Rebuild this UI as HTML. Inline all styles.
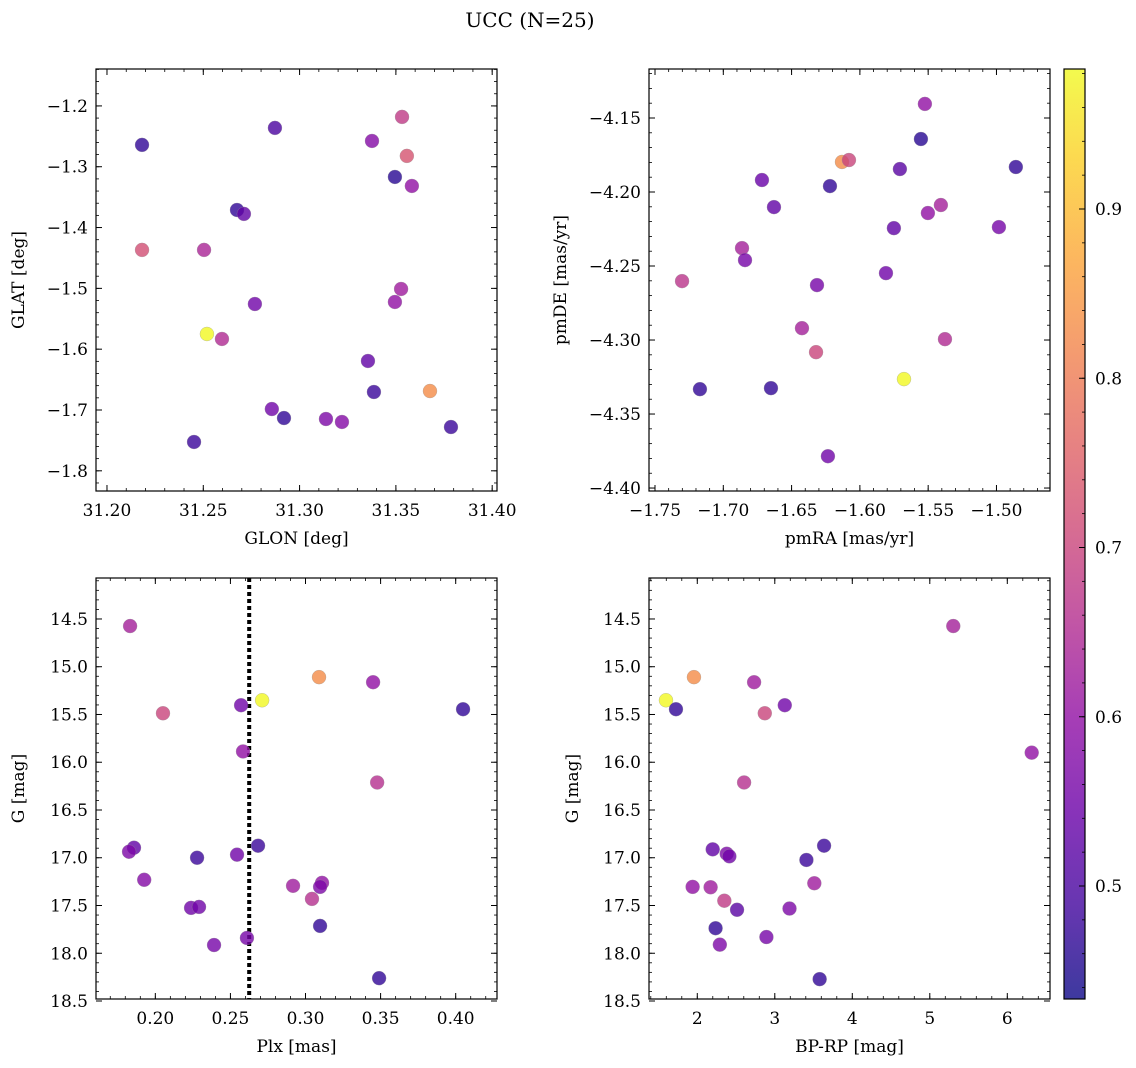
<!DOCTYPE html>
<html><head><meta charset="utf-8"><style>
html,body{margin:0;padding:0;background:#fff;}
svg{display:block;font-family:"DejaVu Serif","Liberation Serif",serif;}
</style></head><body>
<svg id="fig" width="1136" height="1068" viewBox="0 0 1136 1068" xmlns="http://www.w3.org/2000/svg">
<text x="530" y="27" font-size="20" text-anchor="middle">UCC (N=25)</text>
</svg>
<script>
// Panel 1: GLON / GLAT
const glonA=[31.2182,31.2872,31.3532,31.3376,31.3557,31.3495,31.3583,31.2675,31.2711,31.2182,31.2504,31.3527,31.3495,31.2768,31.2519,31.2597,31.3355,31.3386,31.3677,31.2856,31.2919,31.3137,31.3220,31.3786,31.2452];
const glatA=[-1.2641,-1.2362,-1.2181,-1.2576,-1.2822,-1.3168,-1.3316,-1.3711,-1.3776,-1.4368,-1.4368,-1.5010,-1.5224,-1.5257,-1.5750,-1.5832,-1.6194,-1.6704,-1.6688,-1.6984,-1.7132,-1.7148,-1.7197,-1.7280,-1.7526];
const probA=[0.47,0.50,0.68,0.58,0.73,0.46,0.60,0.47,0.53,0.72,0.64,0.62,0.60,0.55,0.98,0.65,0.53,0.48,0.83,0.55,0.47,0.57,0.58,0.48,0.48];
// Panel 2: pmRA / pmDE
const pmraB=[-1.5524,-1.5553,-1.6131,-1.6080,-1.6717,-1.6219,-1.5707,-1.4858,-1.6629,-1.5407,-1.5502,-1.5751,-1.4982,-1.6863,-1.6841,-1.7302,-1.5809,-1.6314,-1.6424,-1.6321,-1.5377,-1.5677,-1.7171,-1.6651,-1.6234];
const pmdeB=[-4.1405,-4.1642,-4.1797,-4.1784,-4.1919,-4.1960,-4.1845,-4.1831,-4.2102,-4.2088,-4.2142,-4.2244,-4.2237,-4.2379,-4.2460,-4.2602,-4.2548,-4.2629,-4.2920,-4.3082,-4.2994,-4.3264,-4.3332,-4.3325,-4.3785];
const probB=[0.60,0.46,0.83,0.70,0.54,0.47,0.52,0.47,0.53,0.63,0.60,0.53,0.56,0.63,0.56,0.67,0.55,0.56,0.63,0.70,0.65,0.98,0.47,0.47,0.55];
// Panel 3: Plx / G
const plxC=[0.1832,0.3090,0.3450,0.2711,0.2571,0.2051,0.4049,0.2584,0.3477,0.2684,0.1858,0.1825,0.2544,0.2278,0.1926,0.3110,0.3097,0.2917,0.3043,0.2238,0.2291,0.3097,0.2610,0.2391,0.3490];
const gC=[14.574,15.109,15.162,15.351,15.403,15.487,15.445,15.887,16.212,16.874,16.895,16.937,16.968,17.000,17.231,17.263,17.305,17.294,17.431,17.525,17.515,17.714,17.840,17.914,18.261];
const probC=[0.63,0.83,0.60,0.98,0.55,0.70,0.47,0.60,0.66,0.48,0.53,0.57,0.55,0.48,0.58,0.60,0.57,0.62,0.66,0.55,0.55,0.47,0.56,0.56,0.47];
const plxLine=[0.2625];
// Panel 4: BP-RP / G
const bprpD=[5.303,1.957,2.733,1.596,1.725,2.871,3.129,6.315,2.604,3.636,2.199,2.380,2.414,3.408,1.940,2.172,3.510,2.349,2.513,3.190,2.236,2.892,2.291,3.579];
const gD=[14.574,15.109,15.162,15.351,15.445,15.487,15.403,15.900,16.212,16.874,16.912,16.958,16.985,17.023,17.305,17.309,17.267,17.450,17.545,17.532,17.738,17.830,17.910,18.271];
const probD=[0.63,0.83,0.62,0.98,0.47,0.70,0.55,0.60,0.66,0.48,0.53,0.57,0.55,0.48,0.60,0.62,0.62,0.68,0.52,0.57,0.47,0.56,0.57,0.47];
// Tick labels
const ticksA_x=[31.20,31.25,31.30,31.35,31.40];
const ticksA_y=[-1.2,-1.3,-1.4,-1.5,-1.6,-1.7,-1.8];
const ticksB_x=[-1.75,-1.70,-1.65,-1.60,-1.55,-1.50];
const ticksB_y=[-4.15,-4.20,-4.25,-4.30,-4.35,-4.40];
const ticksC_x=[0.20,0.25,0.30,0.35,0.40];
const ticksG_y=[14.5,15.0,15.5,16.0,16.5,17.0,17.5,18.0,18.5];
const ticksD_x=[2,3,4,5,6];
const ticksCbar=[0.5,0.6,0.7,0.8,0.9];

const NS="http://www.w3.org/2000/svg";
const svg=document.getElementById('fig');
function mk(tag,attrs,parent){const e=document.createElementNS(NS,tag);for(const k in attrs)e.setAttribute(k,attrs[k]);(parent||svg).appendChild(e);return e;}
function lin(d0,d1,r0,r1){return v=>r0+(v-d0)/(d1-d0)*(r1-r0);}
const plasma=[[13,8,135],[65,4,157],[106,0,168],[143,13,164],[177,42,144],[204,71,120],[225,100,98],[242,132,75],[252,166,54],[252,206,37],[240,249,33]];
const cmin=0.433,cmax=0.983;
function cmap(v){let t=(v-cmin)/(cmax-cmin);t=Math.max(0,Math.min(1,t));const s=t*10,i=Math.min(9,Math.floor(s)),f=s-i;const a=plasma[i],b=plasma[i+1];return 'rgb('+[0,1,2].map(k=>Math.round(a[k]+(b[k]-a[k])*f)).join(',')+')';}
function fmt(v,d){const s=Math.abs(v).toFixed(d);return (v<0?'\u2212':'')+s;}
const FS=17;

function panel(cfg){
  const {x0,x1,y0,y1,xd,yd,xt,yt,xdec,ydec,xminor,yminor,xlabel,ylabel,name}=cfg;
  const sx=lin(xd[0],xd[1],x0,x1), sy=lin(yd[0],yd[1],y0,y1);
  const g=mk('g',{});
  
  
  const xs=Math.min(xd[0],xd[1]), xe=Math.max(xd[0],xd[1]);
  for(let k=Math.ceil(xs/xminor-1e-6);k*xminor<=xe+1e-9;k++){const px=sx(k*xminor);
    mk('line',{x1:px,x2:px,y1:y1,y2:y1-3,stroke:'#000','stroke-width':0.8},g);
    mk('line',{x1:px,x2:px,y1:y0,y2:y0+3,stroke:'#000','stroke-width':0.8},g);}
  const ys=Math.min(yd[0],yd[1]), ye=Math.max(yd[0],yd[1]);
  for(let k=Math.ceil(ys/yminor-1e-6);k*yminor<=ye+1e-9;k++){const py=sy(k*yminor);
    mk('line',{x1:x0,x2:x0+3,y1:py,y2:py,stroke:'#000','stroke-width':0.8},g);
    mk('line',{x1:x1,x2:x1-3,y1:py,y2:py,stroke:'#000','stroke-width':0.8},g);}
  xt.forEach(v=>{const px=sx(v);
    mk('line',{x1:px,x2:px,y1:y1,y2:y1-6,stroke:'#000','stroke-width':1},g);
    mk('line',{x1:px,x2:px,y1:y0,y2:y0+6,stroke:'#000','stroke-width':1},g);
    const t=mk('text',{x:px,y:y1+25,'font-size':FS,'text-anchor':'middle'},g);t.textContent=fmt(v,xdec);
    
    });
  yt.forEach(v=>{const py=sy(v);
    mk('line',{x1:x0,x2:x0+6,y1:py,y2:py,stroke:'#000','stroke-width':1},g);
    mk('line',{x1:x1,x2:x1-6,y1:py,y2:py,stroke:'#000','stroke-width':1},g);
    const t=mk('text',{x:x0-8,y:py+6,'font-size':FS,'text-anchor':'end'},g);t.textContent=fmt(v,ydec);
    
    });
  const fr=mk('rect',{x:x0,y:y0,width:x1-x0,height:y1-y0,fill:'none',stroke:'#000','stroke-width':1.2},g);
  
  
  const xl=mk('text',{x:(x0+x1)/2,y:y1+53,'font-size':FS,'text-anchor':'middle'},g);xl.textContent=xlabel;
  
  
  const yc=(y0+y1)/2, yx=cfg.ylx;
  const yl=mk('text',{x:yx,y:yc,'font-size':FS,'text-anchor':'middle',transform:'rotate(-90 '+yx+' '+yc+')'},g);yl.textContent=ylabel;
  
  
  return {sx,sy,g};
}
function scatter(p,xs,ys,cs){
  xs.forEach((v,i)=>{const c=mk('circle',{cx:p.sx(v),cy:p.sy(ys[i]),r:7,fill:cmap(cs[i]),'fill-opacity':0.8,stroke:'#999','stroke-width':0.5,'stroke-opacity':0.6},p.g);
    
    });
}
const pA=panel({name:'glon-glat-panel',x0:96,x1:497,y0:69,y1:491,xd:[31.1943,31.4025],yd:[-1.1393,-1.8332],xt:ticksA_x,yt:ticksA_y,xdec:2,ydec:1,xminor:0.01,yminor:0.02,xlabel:'GLON [deg]',ylabel:'GLAT [deg]',ylx:24});
scatter(pA,glonA,glatA,probA);
const pB=panel({name:'pm-panel',x0:649,x1:1050,y0:69,y1:491,xd:[-1.7544,-1.4608],yd:[-4.1169,-4.402],xt:ticksB_x,yt:ticksB_y,xdec:2,ydec:2,xminor:0.01,yminor:0.01,xlabel:'pmRA [mas/yr]',ylabel:'pmDE [mas/yr]',ylx:566});
scatter(pB,pmraB,pmdeB,probB);
const pC=panel({name:'plx-g-panel',x0:96,x1:497,y0:578,y1:999,xd:[0.1605,0.4275],yd:[14.071,18.479],xt:ticksC_x,yt:ticksG_y,xdec:2,ydec:1,xminor:0.01,yminor:0.1,xlabel:'Plx [mas]',ylabel:'G [mag]',ylx:24});
const lx=pC.sx(plxLine[0]);
const dl=mk('line',{x1:lx,x2:lx,y1:578,y2:999,stroke:'#000','stroke-width':4,'stroke-dasharray':'4,3'},pC.g);


scatter(pC,plxC,gC,probC);
const pD=panel({name:'cmd-panel',x0:649,x1:1050,y0:578,y1:999,xd:[1.377,6.551],yd:[14.071,18.479],xt:ticksD_x,yt:ticksG_y,xdec:0,ydec:1,xminor:0.2,yminor:0.1,xlabel:'BP-RP [mag]',ylabel:'G [mag]',ylx:578});
scatter(pD,bprpD,gD,probD);

// Colorbar
const cb=mk('g',{});


const defs=mk('defs',{});
const lg=mk('linearGradient',{id:'cg',x1:0,y1:1,x2:0,y2:0},defs);
for(let i=0;i<=20;i++){const v=cmin+(cmax-cmin)*i/20;mk('stop',{offset:(i/20),'stop-color':cmap(v),'stop-opacity':0.8},lg);}
const cy=lin(0.5,0.9,886,209);
mk('rect',{x:1064,y:69,width:21,height:930,fill:'url(#cg)',stroke:'#000','stroke-width':1.2},cb);
for(let k=22;k<=49;k++){const v=k*0.02;if(v<cmin||v>cmax)continue;const py=cy(v);mk('line',{x1:1085,x2:1082,y1:py,y2:py,stroke:'#000','stroke-width':0.8},cb);}
ticksCbar.forEach(v=>{const py=cy(v);mk('line',{x1:1085,x2:1079,y1:py,y2:py,stroke:'#000','stroke-width':1},cb);
  const t=mk('text',{x:1095,y:py+6,'font-size':FS},cb);t.textContent=v.toFixed(1);
  
  });
</script>
</body></html>
